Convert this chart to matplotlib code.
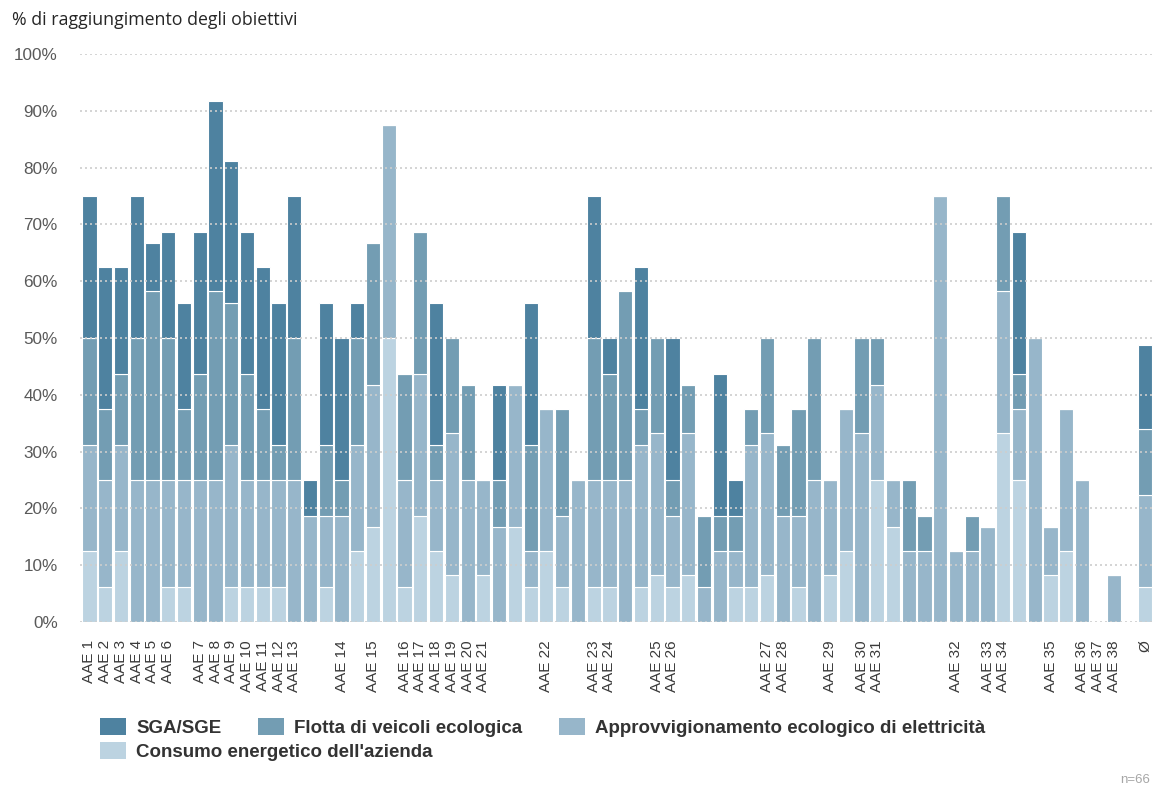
import matplotlib.pyplot as plt
import numpy as np
from matplotlib.patches import Patch

plt.rcParams["font.family"] = ["Liberation Sans", "DejaVu Sans"]

# x labels (only some AAE are named)
labels = ["AAE 1", "AAE 2", "AAE 3", "AAE 4", "AAE 5", "AAE 6", "", "AAE 7", "AAE 8", "AAE 9",
          "AAE 10", "AAE 11", "AAE 12", "AAE 13", "", "", "AAE 14", "", "AAE 15", "",
          "AAE 16", "AAE 17", "AAE 18", "AAE 19", "AAE 20", "AAE 21", "", "", "", "AAE 22",
          "", "", "AAE 23", "AAE 24", "", "", "AAE 25", "AAE 26", "", "",
          "", "", "", "AAE 27", "AAE 28", "", "", "AAE 29", "", "AAE 30",
          "AAE 31", "", "", "", "", "AAE 32", "", "AAE 33", "AAE 34", "",
          "", "AAE 35", "", "AAE 36", "AAE 37", "AAE 38", "", "Ø"]

# stacked values in %, bottom to top
consumo = [12.5, 6.25, 12.5, 0, 0, 6.25, 6.25, 0, 0, 6.25,
           6.25, 6.25, 6.25, 0, 0, 6.25, 0, 12.5, 16.67, 50,
           6.25, 18.75, 12.5, 8.33, 0, 8.33, 0, 16.67, 6.25, 12.5,
           6.25, 0, 6.25, 6.25, 0, 6.25, 8.33, 6.25, 8.33, 0,
           0, 6.25, 6.25, 8.33, 0, 6.25, 0, 8.33, 12.5, 0,
           25, 16.67, 0, 0, 0, 0, 0, 0, 33.33, 25,
           0, 8.33, 12.5, 0, 0, 0, 0, 6.2]
approv = [18.75, 18.75, 18.75, 25, 25, 18.75, 18.75, 25, 25, 25,
          18.75, 18.75, 18.75, 25, 18.75, 12.5, 18.75, 18.75, 25, 37.5,
          18.75, 25, 12.5, 25, 25, 16.67, 16.67, 25, 6.25, 25,
          12.5, 25, 18.75, 18.75, 25, 25, 25, 12.5, 25, 6.25,
          12.5, 6.25, 25, 25, 18.75, 12.5, 25, 16.67, 25, 33.33,
          16.67, 8.33, 12.5, 12.5, 75, 12.5, 12.5, 16.67, 25, 12.5,
          50, 8.33, 25, 25, 0, 8.33, 0, 16.1]
flotta = [18.75, 12.5, 12.5, 25, 33.33, 25, 12.5, 18.75, 33.33, 25,
          18.75, 12.5, 6.25, 25, 0, 12.5, 6.25, 18.75, 25, 0,
          18.75, 25, 6.25, 16.67, 16.67, 0, 8.33, 0, 18.75, 0,
          18.75, 0, 25, 18.75, 33.33, 6.25, 16.67, 6.25, 8.33, 12.5,
          6.25, 6.25, 6.25, 16.67, 12.5, 18.75, 25, 0, 0, 16.67,
          8.33, 0, 12.5, 6.25, 0, 0, 6.25, 0, 16.67, 6.25,
          0, 0, 0, 0, 0, 0, 0, 11.7]
sga = [25, 25, 18.75, 25, 8.33, 18.75, 18.75, 25, 33.33, 25,
       25, 25, 25, 25, 6.25, 25, 25, 6.25, 0, 0,
       0, 0, 25, 0, 0, 0, 16.67, 0, 25, 0,
       0, 0, 25, 6.25, 0, 25, 0, 25, 0, 0,
       25, 6.25, 0, 0, 0, 0, 0, 0, 0, 0,
       0, 0, 0, 0, 0, 0, 0, 0, 0, 25,
       0, 0, 0, 0, 0, 0, 0, 14.7]

series = ["Consumo energetico dell'azienda", "Approvvigionamento ecologico di elettricità",
          "Flotta di veicoli ecologica", "SGA/SGE"]
colors = ["#bcd3e1", "#97b6ca", "#739db3", "#4e82a0"]

W, H = 1153, 787
fig = plt.figure(figsize=(W / 100, H / 100), dpi=100)
ax = fig.add_axes([80 / W, 1 - 622 / H, 1073 / W, 568 / H])

x = np.arange(len(labels))
bottom = np.zeros(len(labels))
for vals, c in zip([consumo, approv, flotta, sga], colors):
    ax.bar(x, vals, 0.9, bottom=bottom, color=c, edgecolor="white", linewidth=0.8, zorder=1)
    bottom += np.array(vals)

ax.set_xlim(-0.6, len(labels) - 0.5)
ax.set_ylim(0, 100)
ax.set_yticks(range(0, 101, 10))
ax.set_yticklabels([f"{v}%" for v in range(0, 101, 10)], fontsize=12.3, color="#595959")
ax.set_xticks(x)
ax.set_xticklabels(labels, rotation=90, fontsize=11, color="#3a3a3a")
ax.tick_params(axis="both", length=0)
ax.tick_params(axis="y", pad=16)
ax.tick_params(axis="x", pad=13)
for s in ax.spines.values():
    s.set_visible(False)
ax.yaxis.grid(True, color="#cdcdcd", linestyle=(0, (1.2, 1.8)), linewidth=1.2, zorder=3)
ax.set_axisbelow(False)

fig.text(12 / W, 1 - 20 / H, "% di raggiungimento degli obiettivi", ha="left", va="center",
         fontsize=12.8, color="#262626", family="Open Sans")

h = [Patch(facecolor=c, edgecolor="none") for c in colors]
kw = dict(frameon=False, prop={"weight": "bold", "size": 13.5}, labelcolor="#333333",
          handlelength=1.39, handleheight=1.0, handletextpad=0.53, borderpad=0,
          borderaxespad=0, loc="upper left")
fig.legend([h[3], h[2], h[1]], [series[3], series[2], series[1]], ncol=3, columnspacing=1.97,
           bbox_to_anchor=(100 / W, 1 - 718 / H), **kw)
fig.legend([h[0]], [series[0]], bbox_to_anchor=(100 / W, 1 - 742 / H), **kw)

fig.text(1150 / W, 1 - 780 / H, "n=66", ha="right", va="center", fontsize=9.5, color="#a6a6a6")

fig.savefig("out.png", dpi=100)
